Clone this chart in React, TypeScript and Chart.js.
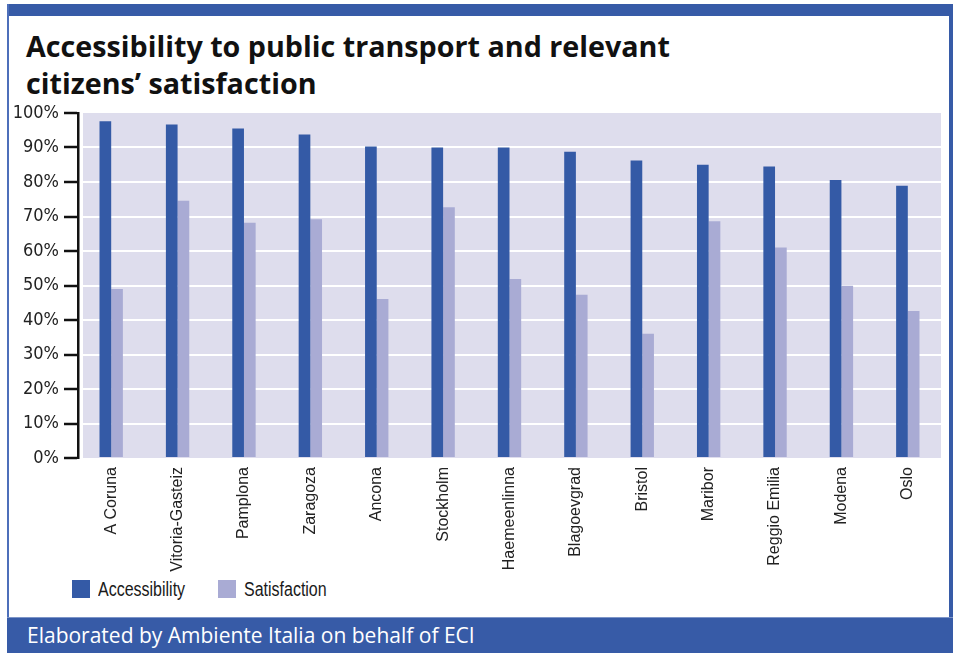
import React, { useEffect, useRef } from "react";
import { Chart, registerables } from "chart.js";

Chart.register(...registerables);

const cities = [
  "A Coruna",
  "Vitoria-Gasteiz",
  "Pamplona",
  "Zaragoza",
  "Ancona",
  "Stockholm",
  "Haemeenlinna",
  "Blagoevgrad",
  "Bristol",
  "Maribor",
  "Reggio Emilia",
  "Modena",
  "Oslo",
];
const accessibility = [97.6, 96.7, 95.5, 93.8, 90.3, 90.0, 90.0, 88.8, 86.2, 85.0, 84.5, 80.6, 78.9];
const satisfaction = [49.0, 74.6, 68.2, 69.2, 46.1, 72.7, 51.9, 47.3, 36.0, 68.6, 61.0, 49.9, 42.6];
const seriesNames = ["Accessibility", "Satisfaction"];
const seriesColors = ["#345aa6", "#a9abd4"];
const titleLines = ["Accessibility to public transport and relevant", "citizens\u2019 satisfaction"];
const footerText = "Elaborated by Ambiente Italia on behalf of ECI";

const FRAME_BLUE = "#375ba7";
const PLOT_BG = "#dedded";
const NARROW = "'DejaVu Sans Condensed', 'Liberation Sans Narrow', 'DejaVu Sans', sans-serif";

const plotBg = {
  id: "plotBg",
  beforeDraw(chart: any) {
    const { ctx, chartArea } = chart;
    if (!chartArea) return;
    ctx.save();
    ctx.fillStyle = PLOT_BG;
    ctx.fillRect(chartArea.left + 5, chartArea.top, chartArea.right - chartArea.left - 5, chartArea.bottom - chartArea.top);
    ctx.restore();
  },
};

export default function App() {
  const canvasRef = useRef<HTMLCanvasElement | null>(null);

  useEffect(() => {
    if (!canvasRef.current) return;
    const chart = new Chart(canvasRef.current, {
      type: "bar",
      data: {
        labels: cities,
        datasets: [
          {
            label: seriesNames[0],
            data: accessibility,
            backgroundColor: seriesColors[0],
            borderWidth: 0,
            barPercentage: 1,
            categoryPercentage: 0.352,
          },
          {
            label: seriesNames[1],
            data: satisfaction,
            backgroundColor: seriesColors[1],
            borderWidth: 0,
            barPercentage: 1,
            categoryPercentage: 0.352,
          },
        ],
      },
      options: {
        responsive: false,
        animation: false,
        devicePixelRatio: 1,
        layout: { padding: { top: 18, right: 12, left: 0, bottom: 0 } },
        plugins: {
          legend: { display: false },
          tooltip: { enabled: false },
          title: { display: false },
        },
        scales: {
          x: {
            grid: { display: false, drawTicks: false },
            border: { display: false },
            ticks: {
              autoSkip: false,
              minRotation: 90,
              maxRotation: 90,
              padding: 9,
              color: "#222",
              font: { family: "'Liberation Sans', Arial, sans-serif", size: 16 },
            },
            afterFit(scale: any) {
              scale.height = 115;
            },
          },
          y: {
            min: 0,
            max: 100,
            ticks: {
              stepSize: 10,
              padding: 5,
              color: "#222",
              font: { family: NARROW, size: 18, style: "condensed" } as any,
              callback: (v: any) => v + "%",
            },
            grid: {
              color: (c: any) =>
                c.tick && (c.tick.value === 0 || c.tick.value === 100) ? "rgba(0,0,0,0)" : "#ffffff",
              lineWidth: 2,
              tickColor: "#111",
              tickWidth: 2.5,
              tickLength: 14,
            },
            border: { display: true, color: "#111", width: 2.5 },
            afterFit(scale: any) {
              scale.width = 78;
            },
          },
        },
      },
      plugins: [plotBg],
    });
    return () => chart.destroy();
  }, []);

  return (
    <div
      style={{
        position: "fixed",
        left: 0,
        top: 0,
        width: 953,
        height: 653,
        background: "#fff",
        overflow: "hidden",
      }}
    >
      <div style={{ position: "absolute", left: 7, top: 4, width: 946, height: 12, background: FRAME_BLUE }} />
      <div style={{ position: "absolute", left: 7, top: 4, width: 2, height: 613, background: "#4d6fba" }} />
      <div style={{ position: "absolute", left: 949, top: 4, width: 4, height: 649, background: FRAME_BLUE }} />
      <div
        style={{
          position: "absolute",
          left: 26,
          top: 26.5,
          fontFamily: "'Open Sans', sans-serif",
          fontWeight: 700,
          fontSize: 28.7,
          lineHeight: "37.5px",
          color: "#111",
          whiteSpace: "nowrap",
        }}
      >
        {titleLines.map((t) => (
          <div key={t}>{t}</div>
        ))}
      </div>
      <canvas
        ref={canvasRef}
        width={953}
        height={478}
        style={{ position: "absolute", left: 0, top: 95, width: 953, height: 478, display: "block" }}
      />
      {seriesNames.map((name, i) => (
        <div
          key={name}
          style={{
            position: "absolute",
            left: 72 + i * 146,
            top: 576,
            height: 26,
            display: "flex",
            alignItems: "center",
            whiteSpace: "nowrap",
          }}
        >
          <div style={{ width: 18, height: 18, background: seriesColors[i], marginRight: 8, flex: "none" }} />
          <span
            style={{
              display: "inline-block",
              fontFamily: "'Liberation Sans', Arial, sans-serif",
              fontSize: 19.5,
              color: "#1a1a1a",
              transform: "scaleX(0.82)",
              transformOrigin: "left center",
            }}
          >
            {name}
          </span>
        </div>
      ))}
      <div
        style={{
          position: "absolute",
          left: 7,
          top: 617,
          width: 946,
          height: 36,
          background: FRAME_BLUE,
          borderTop: "1px solid #7d95c8",
          boxSizing: "border-box",
        }}
      >
        <div
          style={{
            position: "absolute",
            left: 20,
            top: -1,
            fontFamily: "'Open Sans', sans-serif",
            fontSize: 21,
            lineHeight: "36px",
            color: "#fff",
            whiteSpace: "nowrap",
          }}
        >
          {footerText}
        </div>
      </div>
    </div>
  );
}
